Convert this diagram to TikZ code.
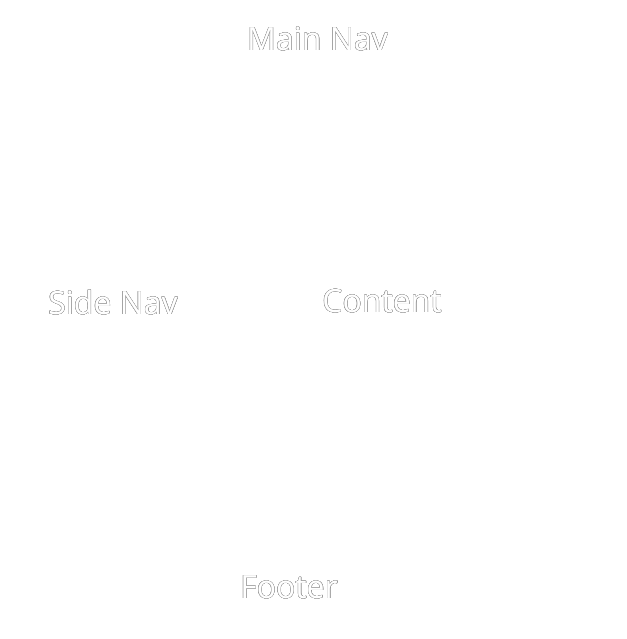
\documentclass[tikz,border=0pt]{standalone}
\usepackage{fontspec}
\setmainfont{Open Sans}
\usepackage[copies]{contour}
\contourlength{0.35pt}
\contournumber{16}
\newcommand{\rimtext}[1]{\contour{black!40}{\textcolor{white}{#1}}}
\begin{document}
\begin{tikzpicture}[x=1pt,y=1pt,
  lbl/.style={text=white, font=\fontsize{32}{38}\selectfont, inner sep=0pt, anchor=base}]
\useasboundingbox[fill=white] (0,0) rectangle (626,639);
\node[lbl] (mainnav) at (317.5,639-50.5) {\rimtext{Main Nav}};
\node[lbl] (sidenav) at (113,639-314.5) {\rimtext{Side Nav}};
\node[lbl] (content) at (382,639-312.5) {\rimtext{Content}};
\node[lbl] (footer) at (289,639-598.5) {\rimtext{Footer}};
\end{tikzpicture}
\end{document}
